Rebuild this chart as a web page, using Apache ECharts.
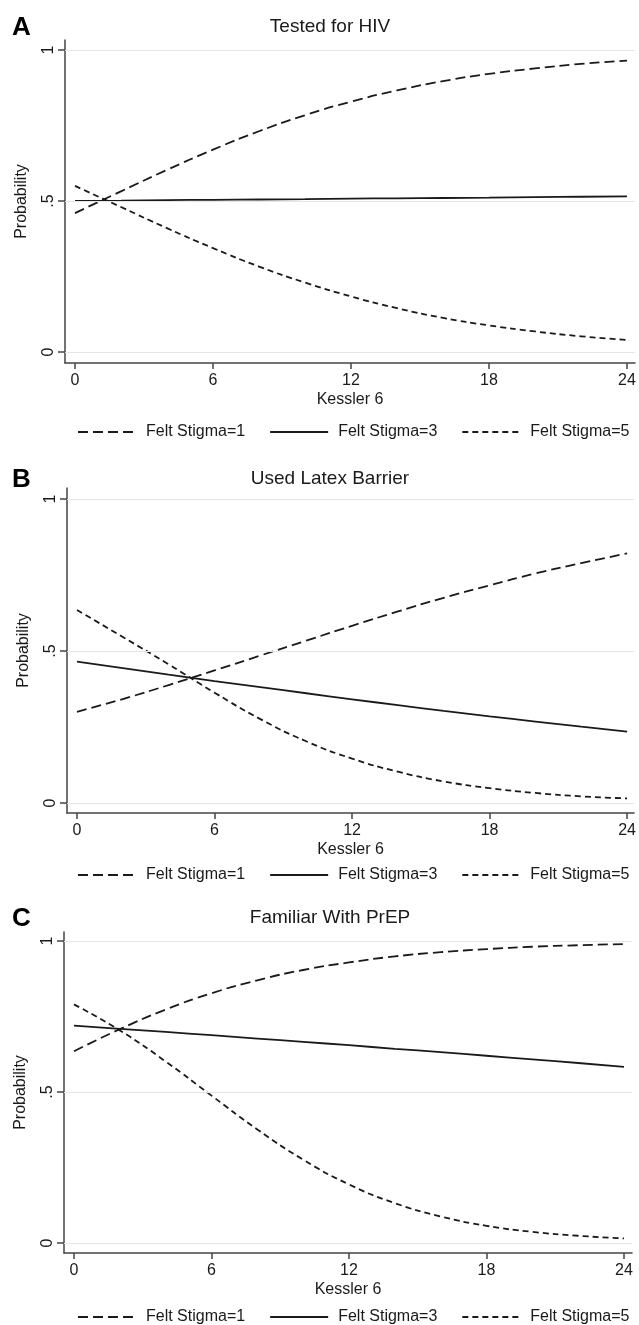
<!DOCTYPE html>
<html>
<head>
<meta charset="utf-8">
<title>Kessler 6 by felt stigma</title>
<script src="https://cdn.jsdelivr.net/npm/echarts@6/dist/echarts.min.js"></script>
<style>
  html, body { margin: 0; padding: 0; background: #fff; }
  #chart { width: 639px; height: 1325px; }
</style>
</head>
<body>
<div id="chart"></div>
<script>
// x values (Kessler 6 score)
const kessler = [0, 2, 4, 6, 8, 10, 12, 14, 16, 18, 20, 22, 24]
const seriesNames = ['Felt Stigma=1', 'Felt Stigma=3', 'Felt Stigma=5']
const panelTitles = ['Tested for HIV', 'Used Latex Barrier', 'Familiar With PrEP']
const panelLetters = ['A', 'B', 'C']
const xTicks = [0, 6, 12, 18, 24]
const yTicks = [0, 0.5, 1]

// A: Tested for HIV
const testedStigma1 = [0.460, 0.532, 0.603, 0.670, 0.731, 0.784, 0.829, 0.866, 0.897, 0.921, 0.939, 0.954, 0.965]
const testedStigma3 = [0.500, 0.501, 0.503, 0.504, 0.505, 0.506, 0.508, 0.509, 0.510, 0.511, 0.513, 0.514, 0.515]
const testedStigma5 = [0.550, 0.480, 0.410, 0.344, 0.283, 0.230, 0.184, 0.145, 0.113, 0.088, 0.068, 0.052, 0.040]

// B: Used Latex Barrier
const latexStigma1 = [0.300, 0.342, 0.388, 0.436, 0.485, 0.534, 0.583, 0.630, 0.675, 0.716, 0.755, 0.789, 0.821]
const latexStigma3 = [0.465, 0.444, 0.422, 0.401, 0.381, 0.361, 0.341, 0.322, 0.303, 0.285, 0.268, 0.251, 0.235]
const latexStigma5 = [0.635, 0.546, 0.456, 0.363, 0.276, 0.203, 0.146, 0.103, 0.071, 0.049, 0.033, 0.022, 0.015]

// C: Familiar With PrEP
const prepStigma1 = [0.635, 0.708, 0.773, 0.827, 0.870, 0.904, 0.929, 0.949, 0.963, 0.973, 0.981, 0.986, 0.990]
const prepStigma3 = [0.720, 0.709, 0.699, 0.688, 0.677, 0.666, 0.655, 0.643, 0.632, 0.620, 0.608, 0.596, 0.583]
const prepStigma5 = [0.790, 0.704, 0.601, 0.488, 0.376, 0.276, 0.194, 0.132, 0.088, 0.057, 0.037, 0.024, 0.015]

const panelData = [
  [testedStigma1, testedStigma3, testedStigma5],
  [latexStigma1, latexStigma3, latexStigma5],
  [prepStigma1, prepStigma3, prepStigma5]
]

// pixel layout of each panel (axis frame, and where x=0/24 and y=0/1 fall)
const panels = [
  { axisX: 65, x0: 75, x24: 627, right: 635, top: 40, y1: 50, y0: 352, bottom: 363, titleY: 26, legendY: 432 },
  { axisX: 67, x0: 77, x24: 628, right: 635, top: 488, y1: 499, y0: 803, bottom: 813, titleY: 478, legendY: 875 },
  { axisX: 64, x0: 74, x24: 624, right: 632, top: 932, y1: 941, y0: 1243, bottom: 1253, titleY: 917, legendY: 1317 }
]

const font = "'Liberation Sans', Arial, Helvetica, sans-serif"
const ink = '#1a1a1a'
const axisColor = '#444'
const dashTypes = [[10, 5], 'solid', [6, 4]]

const chart = echarts.init(document.getElementById('chart'))

const grid = []
const xAxis = []
const yAxis = []
const series = []
const legend = []
const graphic = []

panels.forEach((p, i) => {
  const pxX = (p.x24 - p.x0) / 24
  const pxY = p.y0 - p.y1

  grid.push({ left: p.axisX, right: 639 - p.right, top: p.top, height: p.bottom - p.top })

  xAxis.push({
    type: 'value', gridIndex: i,
    min: -(p.x0 - p.axisX) / pxX,
    max: 24 + (p.right - p.x24) / pxX,
    name: 'Kessler 6', nameLocation: 'middle', nameGap: 29,
    nameTextStyle: { fontFamily: font, fontSize: 16, color: ink },
    axisLine: { show: true, onZero: false, lineStyle: { color: axisColor, width: 1.5 } },
    axisTick: { show: true, length: 6, customValues: xTicks, lineStyle: { color: axisColor, width: 1.5 } },
    axisLabel: { fontFamily: font, fontSize: 16, color: ink, margin: 10, customValues: xTicks },
    splitLine: { show: false }
  })

  yAxis.push({
    type: 'value', gridIndex: i,
    min: -(p.bottom - p.y0) / pxY,
    max: 1 + (p.y1 - p.top) / pxY,
    name: 'Probability', nameLocation: 'middle', nameGap: 35,
    nameTextStyle: { fontFamily: font, fontSize: 16, color: ink },
    axisLine: { show: true, onZero: false, lineStyle: { color: axisColor, width: 1.5 } },
    axisTick: { show: true, length: 7, customValues: yTicks, lineStyle: { color: axisColor, width: 1.5 } },
    axisLabel: {
      fontFamily: font, fontSize: 16, color: ink, margin: 8, rotate: 90,
      customValues: yTicks,
      formatter: v => (v === 0.5 ? '.5' : String(v))
    },
    splitLine: { show: false }
  })

  // light gridlines at 0, .5, 1
  series.push({
    name: 'gridlines', type: 'line', xAxisIndex: i, yAxisIndex: i,
    data: [], silent: true, z: 1,
    markLine: {
      silent: true, symbol: ['none', 'none'], label: { show: false },
      lineStyle: { color: '#e6e6e6', width: 1, type: 'solid' },
      data: yTicks.map(v => ({ yAxis: v }))
    }
  })

  seriesNames.forEach((name, k) => {
    series.push({
      name, type: 'line', xAxisIndex: i, yAxisIndex: i,
      data: kessler.map((x, j) => [x, panelData[i][k][j]]),
      smooth: true, symbol: 'none', z: 3,
      lineStyle: { color: ink, width: 1.8, type: dashTypes[k] },
      itemStyle: { color: ink }
    })
  })

  legend.push({
    data: seriesNames, left: 77, top: p.legendY - 8, padding: 0,
    itemWidth: 58, itemHeight: 14, itemGap: 24,
    selectedMode: false,
    itemStyle: { color: 'transparent', borderWidth: 0, opacity: 0 },
    textStyle: { fontFamily: font, fontSize: 16, color: ink, padding: [0, 0, 0, 5] }
  })

  graphic.push({
    type: 'text', left: 12, top: p.titleY - 11,
    style: { text: panelLetters[i], font: 'bold 26px ' + font, fill: '#000' }
  })
  graphic.push({
    type: 'text', x: 330, y: p.titleY + 1,
    style: { text: panelTitles[i], font: '19px ' + font, fill: ink, align: 'center', verticalAlign: 'middle' }
  })
})

chart.setOption({
  animation: false,
  backgroundColor: '#fff',
  grid, xAxis, yAxis, series, legend, graphic
})
</script>
</body>
</html>
